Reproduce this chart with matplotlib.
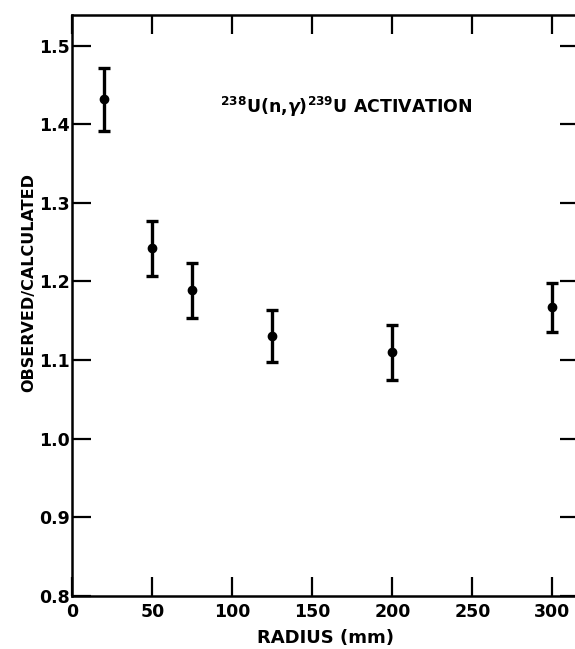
import matplotlib
matplotlib.use('Agg')
import matplotlib.pyplot as plt
import numpy as np

# values
radius = [20, 50, 75, 125, 200, 300]
ratio = [1.432, 1.242, 1.189, 1.131, 1.110, 1.167]
ratio_err = [0.040, 0.035, 0.035, 0.033, 0.035, 0.031]

x_ticks = [0, 50, 100, 150, 200, 250, 300]
y_ticks = [0.8, 0.9, 1.0, 1.1, 1.2, 1.3, 1.4, 1.5]
y_ticklabels = ['0.8', '0.9', '1.0', '1.1', '1.2', '1.3', '1.4', '1.5']

plt.rcParams['font.family'] = ['DejaVu Sans']
plt.rcParams['font.weight'] = 'bold'

fig = plt.figure(figsize=(5.75, 6.49), dpi=100)
ax = fig.add_axes([0.126, 0.0817, 0.881, 0.8953])

ax.errorbar(radius, ratio, yerr=ratio_err, fmt='o', color='black',
            markersize=6, elinewidth=2.4, capsize=4, capthick=2.4)

ax.set_xlim(0, 316.6)
ax.set_ylim(0.8, 1.539)
ax.set_xticks(x_ticks)
ax.set_yticks(y_ticks)
ax.set_yticklabels(y_ticklabels)

ax.tick_params(direction='in', length=13.5, width=1.6, labelsize=12.5,
               top=True, right=True)
ax.tick_params(axis='y', pad=2)
ax.tick_params(axis='x', pad=5)
for spine in ax.spines.values():
    spine.set_linewidth(1.8)

ax.set_xlabel('RADIUS (mm)', fontsize=13, fontweight='bold', labelpad=6)
ax.set_ylabel('OBSERVED/CALCULATED', fontsize=11.5, fontweight='bold')
ax.yaxis.set_label_coords(-0.072, 0.54)

ax.text(171, 1.422, r'$^{\mathbf{238}}$U(n,$\gamma$)$^{\mathbf{239}}$U ACTIVATION',
        ha='center', va='center', fontsize=12.5, fontweight='bold')

fig.savefig('out.png', dpi=100)
